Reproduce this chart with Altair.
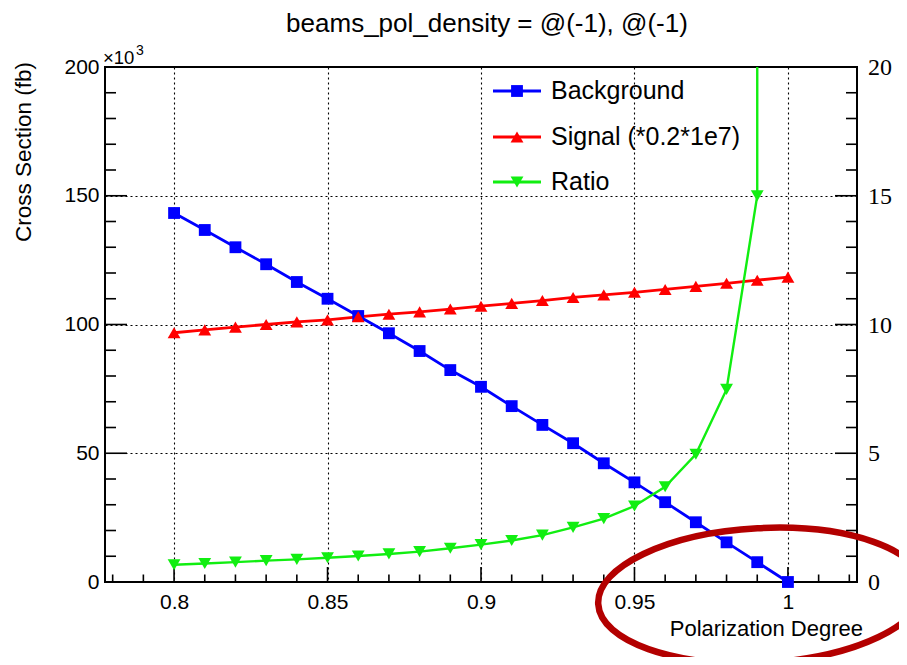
import altair as alt
import pandas as pd

# ---------------- data ----------------
pol = [0.80, 0.81, 0.82, 0.83, 0.84, 0.85, 0.86, 0.87, 0.88, 0.89, 0.90,
       0.91, 0.92, 0.93, 0.94, 0.95, 0.96, 0.97, 0.98, 0.99, 1.00]
background = [143.3, 136.7, 130.0, 123.4, 116.5, 110.0, 103.3, 96.6, 89.7, 82.3, 75.8,
              68.3, 61.0, 53.9, 46.1, 38.7, 31.0, 23.2, 15.4, 7.7, 0.0]      # x10^3 fb
signal = [96.8, 97.9, 99.0, 100.0, 101.0, 101.8, 103.0, 104.0, 104.9, 106.0, 107.1,
          108.2, 109.3, 110.5, 111.5, 112.5, 113.6, 114.8, 116.0, 117.2, 118.4]  # x10^3 fb
# ratio at 1.0 is off the chart (division by zero background): shown as a very large value
ratio = [0.67, 0.72, 0.77, 0.83, 0.88, 0.94, 1.01, 1.09, 1.18, 1.31, 1.45,
         1.61, 1.82, 2.12, 2.46, 2.95, 3.70, 4.96, 7.48, 15.0, 100000.0]

series_names = ["Background", "Signal (*0.2*1e7)", "Ratio"]
series_colors = ["#0000ff", "#ff0000", "#11ee11"]
series_shapes = ["square", "triangle-up", "triangle-down"]
series_sizes = [140, 165, 165]

title_text = "beams_pol_density = @(-1), @(-1)"
x_title = "Polarization Degree"
y_title = "Cross Section (fb)"

x_major = [0.80, 0.85, 0.90, 0.95, 1.00]
x_minor = [0.78, 0.79, 0.81, 0.82, 0.83, 0.84, 0.86, 0.87, 0.88, 0.89, 0.91,
           0.92, 0.93, 0.94, 0.96, 0.97, 0.98, 0.99, 1.01, 1.02]
y_major = [0, 50, 100, 150, 200]
y_minor = [10, 20, 30, 40, 60, 70, 80, 90, 110, 120, 130, 140, 160, 170, 180, 190]
r_major = [0, 5, 10, 15, 20]

# ---------------- layout ----------------
W, H = 752, 515
SANS = "Liberation Sans"
SERIF = "Liberation Serif, Times New Roman, serif"

df = pd.DataFrame({"pol": pol, "bg": background, "sig": signal, "ratio": ratio})
one = pd.DataFrame({"a": [0]})

xs = alt.Scale(domain=[0.7775, 1.0225], nice=False, zero=False)
ys = alt.Scale(domain=[0, 200], nice=False, zero=False)
rs = alt.Scale(domain=[0, 20], nice=False, zero=False)

x_axis = alt.Axis(values=x_major, format="~g", grid=True, ticks=False, domain=False,
                  labelFontSize=21, labelPadding=9, labelFlush=False, labelOverlap=False,
                  title=None)
y_axis = alt.Axis(values=y_major, grid=True, ticks=False, domain=False,
                  labelFontSize=21, labelPadding=6, labelFlush=False, labelOverlap=False,
                  title=None)

base = alt.Chart(df)

bg_line = base.mark_line(color=series_colors[0], strokeWidth=2.8).encode(
    x=alt.X("pol:Q", scale=xs, axis=x_axis),
    y=alt.Y("bg:Q", scale=ys, axis=y_axis))
bg_pts = base.mark_point(shape=series_shapes[0], filled=True, size=series_sizes[0], opacity=1,
                         color=series_colors[0]).encode(
    x=alt.X("pol:Q", scale=xs),
    y=alt.Y("bg:Q", scale=ys))
sig_line = base.mark_line(color=series_colors[1], strokeWidth=2.8).encode(
    x=alt.X("pol:Q", scale=xs),
    y=alt.Y("sig:Q", scale=ys))
sig_pts = base.mark_point(shape=series_shapes[1], filled=True, size=series_sizes[1], opacity=1,
                          color=series_colors[1]).encode(
    x=alt.X("pol:Q", scale=xs),
    y=alt.Y("sig:Q", scale=ys))

# inward ticks (ROOT style)
def xticks(vals, length):
    return alt.Chart(pd.DataFrame({"t": vals})).mark_rule(color="black", strokeWidth=1.6).encode(
        x=alt.X("t:Q", scale=xs), y=alt.value(H), y2=alt.value(H - length))

def yticks(vals, x0, x1):
    return alt.Chart(pd.DataFrame({"v": vals})).mark_rule(color="black", strokeWidth=1.6).encode(
        y=alt.Y("v:Q", scale=ys), x=alt.value(x0), x2=alt.value(x1))

ticks = [xticks(x_major, 15), xticks(x_minor, 7.5),
         yticks(y_major, 0, 22), yticks(y_minor, 0, 11),
         yticks(y_major, W, W - 22), yticks(y_minor, W, W - 11)]

def text(t, x, y, size, align="left", baseline="middle", font=SANS, angle=0):
    kw = dict(text=t, fontSize=size, font=font, align=align, baseline=baseline, color="black")
    if angle:
        kw["angle"] = angle
    return alt.Chart(one).mark_text(**kw).encode(x=alt.value(x), y=alt.value(y))

texts = [
    text(title_text, 382, -35, 26, align="center", baseline="alphabetic"),
    text(x_title, 758, H + 54, 22, align="right", baseline="alphabetic"),
    text(y_title, -74, -5, 22.5, align="right", baseline="alphabetic", angle=270),
    text("\u00d710", -2, -3, 18.5, align="left", baseline="alphabetic"),
    text("3", 31, -12, 14, align="left", baseline="alphabetic"),
]

# legend (ROOT style: line + marker + label)
legend = []
legend_y = [24, 70, 115]
for name, col, shp, sz, ly in zip(series_names, series_colors, series_shapes, series_sizes, legend_y):
    legend.append(alt.Chart(one).mark_rule(color=col, strokeWidth=2.8).encode(
        x=alt.value(388), x2=alt.value(436), y=alt.value(ly)))
    legend.append(alt.Chart(one).mark_point(shape=shp, filled=True, size=sz, opacity=1,
                                            color=col).encode(
        x=alt.value(412), y=alt.value(ly)))
    legend.append(text(name, 446, ly, 25))

# red annotation ellipse
ellipse_path = ("M 1 0 C 1 0.2283 0.5523 0.4133 0 0.4133 C -0.5523 0.4133 -1 0.2283 -1 0 "
                "C -1 -0.2283 -0.5523 -0.4133 0 -0.4133 C 0.5523 -0.4133 1 -0.2283 1 0 Z")
ellipse = alt.Chart(one).mark_point(shape=ellipse_path, filled=False, stroke="#b30000",
                                    strokeWidth=6.5, opacity=1, size=163 * 2 * 163 * 2,
                                    angle=357).encode(
    x=alt.value(761 - 105), y=alt.value(595.5 - 67))

left = alt.layer(bg_line, *ticks, sig_line, bg_pts, sig_pts, *texts, *legend, ellipse)

# right-hand (ratio) scale: serif labels placed through the ratio scale
ratio_line = base.mark_line(color=series_colors[2], strokeWidth=2.4, clip=True).encode(
    x=alt.X("pol:Q", scale=xs),
    y=alt.Y("ratio:Q", scale=rs, axis=None))
ratio_pts = base.mark_point(shape=series_shapes[2], filled=True, size=series_sizes[2], opacity=1,
                            color=series_colors[2], clip=True).encode(
    x=alt.X("pol:Q", scale=xs),
    y=alt.Y("ratio:Q", scale=rs, axis=None))
r_labels = alt.Chart(pd.DataFrame({"v": r_major})).mark_text(
    font=SERIF, fontSize=24, align="left", baseline="middle", color="black", dy=1).encode(
    y=alt.Y("v:Q", scale=rs, axis=None),
    x=alt.value(W + 11),
    text=alt.Text("v:Q", format="d"))
right = alt.layer(ratio_line, ratio_pts, r_labels)

chart = alt.layer(left, right).resolve_scale(y="independent").properties(
    width=W, height=H,
    padding={"left": 97, "top": 59, "right": 42, "bottom": 75},
    autosize=alt.AutoSizeParams(type="none"),
).configure_view(
    stroke="black", strokeWidth=2
).configure_axis(
    gridColor="black", gridDash=[2, 3], gridWidth=1.1, gridOpacity=1,
    labelFont=SANS, labelColor="black"
)

chart.save("out.html", embed_options={"renderer": "svg", "actions": False})
